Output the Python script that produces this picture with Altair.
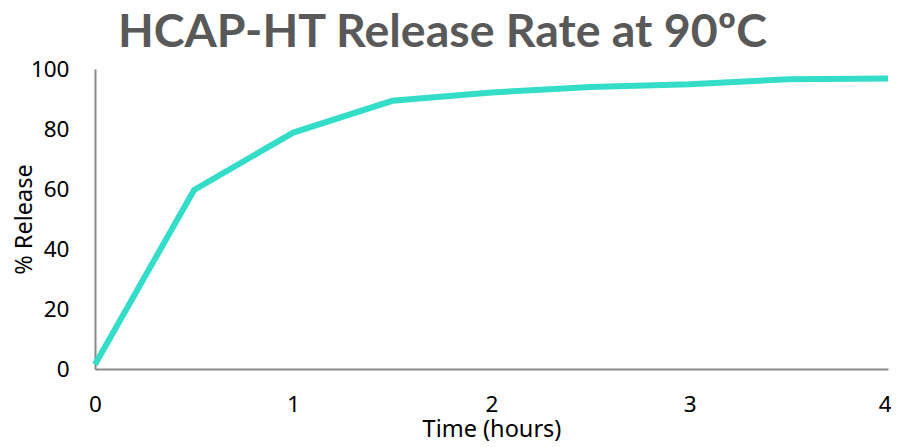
import altair as alt
import pandas as pd

time_hours = [0, 0.5, 1, 1.5, 2, 2.5, 3, 3.5, 4]
release_pct = [1.5, 59.7, 78.8, 89.4, 92.2, 94.0, 94.9, 96.6, 96.8]

df = pd.DataFrame({"Time": time_hours, "Release": release_pct})

chart = alt.Chart(df).mark_line(
    color="#33DDC8", strokeWidth=6, strokeJoin="miter"
).encode(
    x=alt.X("Time:Q", title="Time (hours)",
            scale=alt.Scale(domain=[0, 4], nice=False),
            axis=alt.Axis(values=[0, 1, 2, 3, 4], format="d",
                          labelFlush=False, labelPadding=24,
                          labelAlign={"expr": "datum.value == 4 ? 'right' : 'center'"},
                          labelOffset={"expr": "datum.value == 4 ? 3 : 0"},
                          titleY=67, titleBaseline="alphabetic")),
    y=alt.Y("Release:Q", title="% Release",
            scale=alt.Scale(domain=[0, 100], nice=False),
            axis=alt.Axis(values=[0, 20, 40, 60, 80, 100],
                          labelPadding=26, titleX=-71, titleY=150,
                          titleBaseline="middle")),
).properties(
    width=793, height=300,
    autosize=alt.AutoSizeParams(type="none"),
    padding={"left": 87, "top": 61, "right": 3, "bottom": 72},
    title=alt.TitleParams(
        "HCAP-HT Release Rate at 90ºC",
        font="Lato", fontSize=46.5, fontWeight="bold", color="#595959",
        anchor="middle", dx=-49, offset=2,
    ),
).configure_view(stroke=None).configure_axis(
    grid=False, ticks=False, domainColor="#898989", domainWidth=2,
    labelFont="Noto Sans", labelFontSize=22.5, labelColor="#000000",
    titleFont="Noto Sans", titleFontSize=23.5, titleColor="#000000",
    titleFontWeight="normal",
)

chart.save("out.html", embed_options={"renderer": "svg", "actions": False})
